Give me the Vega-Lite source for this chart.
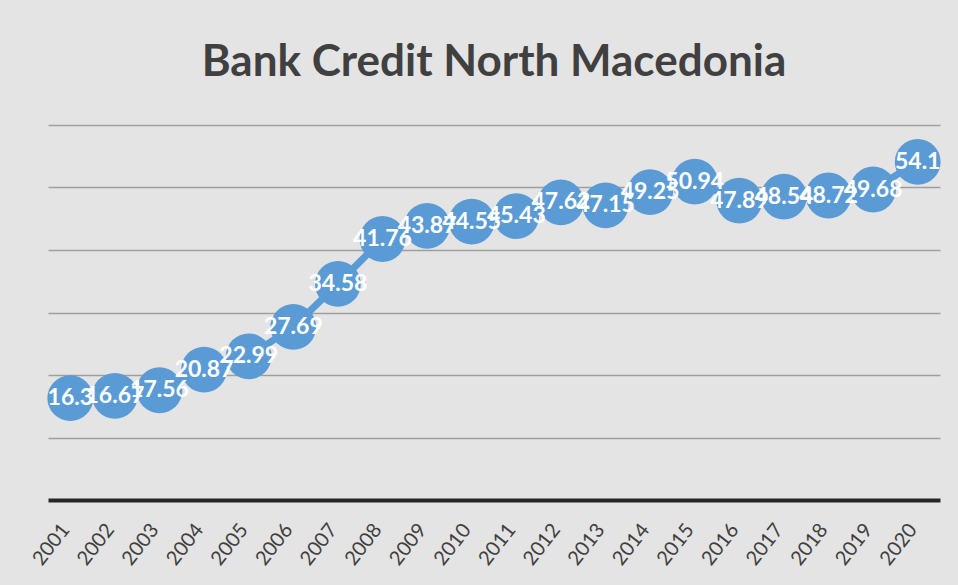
{
  "$schema": "https://vega.github.io/schema/vega-lite/v6.json",
  "width": 892,
  "height": 375,
  "autosize": {"type": "none"},
  "padding": {"left": 48, "top": 125, "right": 18, "bottom": 85},
  "background": "#e4e4e4",
  "title": {"text": "Bank Credit North Macedonia", "fontSize": 44, "font": "Lato", "fontWeight": "bold", "color": "#404040", "anchor": "middle", "offset": 5, "baseline": "alphabetic"},
  "config": {"view": {"stroke": null}},
  "data": {"values": [
    {"year": "2001", "value": 16.3},
    {"year": "2002", "value": 16.67},
    {"year": "2003", "value": 17.56},
    {"year": "2004", "value": 20.87},
    {"year": "2005", "value": 22.99},
    {"year": "2006", "value": 27.69},
    {"year": "2007", "value": 34.58},
    {"year": "2008", "value": 41.76},
    {"year": "2009", "value": 43.87},
    {"year": "2010", "value": 44.55},
    {"year": "2011", "value": 45.43},
    {"year": "2012", "value": 47.62},
    {"year": "2013", "value": 47.15},
    {"year": "2014", "value": 49.25},
    {"year": "2015", "value": 50.94},
    {"year": "2016", "value": 47.89},
    {"year": "2017", "value": 48.54},
    {"year": "2018", "value": 48.72},
    {"year": "2019", "value": 49.68},
    {"year": "2020", "value": 54.1}
  ]},
  "encoding": {
    "x": {"field": "year", "type": "ordinal", "scale": {"type": "point", "padding": 0.5},
      "axis": {"title": null, "domainColor": "#262626", "domainWidth": 4, "ticks": false, "labelAngle": -52, "labelAlign": "right", "labelBaseline": "middle", "labelFontSize": 20, "labelFont": "Lato", "labelColor": "#404040", "labelPadding": 26, "labelOffset": -5, "grid": false}},
    "y": {"field": "value", "type": "quantitative", "scale": {"domain": [0, 60]},
      "axis": {"title": null, "domain": false, "ticks": false, "labels": false, "values": [10, 20, 30, 40, 50, 60], "grid": true, "gridColor": "#9e9e9e", "gridWidth": 1.5}}
  },
  "layer": [
    {"mark": {"type": "line", "color": "#5b9bd5", "strokeWidth": 7}},
    {"mark": {"type": "point", "shape": "circle", "filled": true, "color": "#5b9bd5", "size": 2100, "opacity": 1}},
    {"mark": {"type": "text", "color": "white", "fontSize": 23, "font": "Lato", "fontWeight": "bold"}, "encoding": {"text": {"field": "value", "type": "quantitative"}}}
  ]
}
